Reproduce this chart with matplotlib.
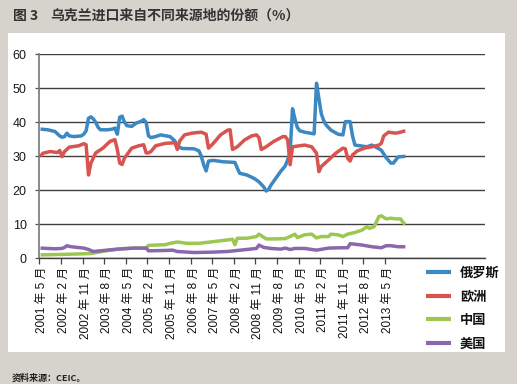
import matplotlib
matplotlib.use("Agg")
import matplotlib.pyplot as plt
from matplotlib.patches import Rectangle

plt.rcParams['font.family'] = ['Noto Sans CJK SC', 'DejaVu Sans']
TICK_FONT = ['Liberation Sans', 'Noto Sans CJK SC', 'DejaVu Sans']

# ---------------- data (month index 0 = 2001年5月) ----------------
tick_labels = ["2001 年 5 月", "2002 年 2 月", "2002 年 11 月", "2003 年 8 月",
               "2004 年 5 月", "2005 年 2 月", "2005 年 11 月", "2006 年 8 月",
               "2007 年 5 月", "2008 年 2 月", "2008 年 11 月", "2009 年 8 月",
               "2010 年 5 月", "2011 年 2 月", "2011 年 11 月", "2012 年 8 月",
               "2013 年 5 月"]
series_names = ["俄罗斯", "欧洲", "中国", "美国"]

ru_month = [0, 3, 6, 8, 9, 10, 11, 12, 14, 17, 18, 19, 20, 21, 22, 23, 24, 25, 28, 30,
            31, 32, 33, 34, 35, 36, 38, 40, 42, 43, 44, 45, 46, 48, 50, 54, 56, 57, 59,
            64, 66, 67, 68, 69, 70, 72, 76, 81, 82, 83, 86, 89, 91, 93, 94, 95, 96, 98,
            100, 102, 103, 104, 105, 106, 107, 108, 110, 114, 115, 116, 117, 118, 119,
            121, 124, 126, 127, 129, 130, 131, 134, 136, 138, 140, 142, 144, 146, 147,
            149, 152]
ru_value = [38.0, 37.8, 37.3, 36.0, 35.6, 35.8, 36.8, 36.0, 35.8, 36.0, 36.5, 37.5, 41.2,
            41.6, 41.0, 40.0, 38.5, 37.8, 37.8, 38.0, 38.3, 36.5, 41.5, 41.8, 40.0, 39.0,
            38.8, 39.8, 40.3, 40.8, 40.0, 36.0, 35.5, 35.8, 36.3, 35.8, 34.5, 33.0, 32.3,
            32.2, 31.6, 30.0, 27.5, 25.7, 28.6, 28.8, 28.4, 28.2, 26.5, 25.0, 24.5, 23.5,
            22.5, 21.0, 19.8, 20.2, 21.5, 23.5, 25.5, 27.2, 29.0, 31.0, 44.0, 41.0, 38.5,
            37.5, 37.1, 36.6, 51.5, 47.0, 42.5, 40.5, 39.2, 37.7, 36.5, 36.3, 40.2, 40.2,
            36.0, 33.3, 33.0, 32.8, 33.3, 32.6, 31.8, 29.6, 28.0, 28.0, 29.8, 30.0]

eu_month = [0, 1, 4, 7, 8, 9, 10, 12, 16, 18, 19, 20, 21, 23, 26, 29, 31, 32, 33, 34, 35,
            38, 41, 43, 44, 45, 46, 48, 52, 56, 57, 58, 60, 63, 67, 69, 70, 72, 75, 78,
            79, 80, 82, 85, 88, 90, 91, 92, 94, 97, 101, 102, 103, 104, 105, 107, 110,
            113, 115, 116, 117, 120, 123, 126, 127, 128, 129, 130, 132, 135, 138, 141,
            142, 143, 145, 148, 150, 152]
eu_value = [30.0, 30.9, 31.4, 31.1, 31.7, 29.9, 31.4, 32.7, 33.1, 33.7, 33.4, 24.5, 28.0,
            31.0, 32.4, 34.4, 34.9, 32.0, 28.0, 27.6, 29.5, 32.4, 33.1, 33.4, 31.0, 31.0,
            31.4, 33.1, 33.8, 34.0, 32.0, 34.5, 36.3, 36.8, 37.1, 36.5, 32.4, 33.8, 36.3,
            37.7, 37.8, 32.0, 32.8, 34.8, 36.0, 36.3, 35.5, 32.0, 32.8, 34.3, 35.8, 35.8,
            34.8, 27.5, 32.8, 33.0, 33.3, 32.8, 30.9, 25.5, 27.0, 28.9, 30.9, 32.4, 32.2,
            29.4, 28.6, 30.4, 31.6, 32.4, 32.8, 33.3, 33.8, 36.0, 37.1, 36.8, 37.1, 37.5]

cn_month = [0, 12, 21, 24, 28, 34, 39, 44, 45, 52, 54, 57, 61, 66, 72, 78, 80, 81, 82, 86,
            90, 91, 93, 94, 98, 102, 104, 106, 107, 110, 113, 115, 117, 120, 121, 124,
            126, 128, 131, 134, 136, 137, 139, 141, 142, 144, 146, 148, 150, 151, 152]
cn_value = [1.0, 1.2, 1.4, 1.8, 2.3, 2.8, 3.0, 3.0, 3.8, 4.0, 4.4, 4.8, 4.4, 4.4, 4.9,
            5.4, 5.6, 4.0, 5.9, 5.9, 6.4, 7.1, 6.2, 5.7, 5.7, 5.8, 6.4, 7.1, 6.1, 6.9,
            7.1, 6.0, 6.4, 6.4, 7.1, 6.9, 6.4, 7.1, 7.6, 8.3, 9.3, 8.8, 9.3, 12.3, 12.5,
            11.6, 11.8, 11.6, 11.6, 10.6, 10.0]

us_month = [0, 6, 9, 10, 11, 12, 14, 18, 20, 22, 25, 32, 39, 44, 45, 52, 55, 57, 64, 71,
            78, 82, 86, 90, 91, 93, 96, 100, 102, 104, 106, 110, 115, 120, 125, 128, 129,
            134, 138, 142, 144, 146, 149, 152]
us_value = [3.0, 2.8, 2.9, 3.2, 3.7, 3.5, 3.3, 3.0, 2.6, 2.0, 2.2, 2.7, 3.0, 3.0, 2.2,
            2.3, 2.4, 2.0, 1.7, 1.8, 2.0, 2.3, 2.6, 2.9, 3.9, 3.2, 2.9, 2.7, 3.0, 2.6,
            2.9, 2.9, 2.4, 3.0, 3.1, 3.1, 4.3, 3.9, 3.4, 3.1, 3.7, 3.7, 3.4, 3.4]

colors = ["#3b88c3", "#d9534f", "#9cc751", "#8a68ad"]

# ---------------- figure ----------------
W, H = 517, 384
fig = plt.figure(figsize=(W / 100, H / 100), dpi=100)
fig.patch.set_facecolor("#d6d3cc")

# white panel
fig.add_artist(Rectangle((8 / W, 1 - 352 / H), (505 - 8) / W, (352 - 33) / H,
                         transform=fig.transFigure, facecolor="white",
                         edgecolor="none", zorder=0))

ax = fig.add_axes([39.3 / W, 1 - 258.3 / H, (485 - 39.3) / W, 204 / H])
ax.set_facecolor("none")

data = [(ru_month, ru_value), (eu_month, eu_value), (cn_month, cn_value), (us_month, us_value)]
for (mx, vy), c, name in zip(data, colors, series_names):
    ax.plot(mx, vy, color=c, lw=2.5, solid_joinstyle="round", solid_capstyle="butt",
            label=name, zorder=3)

ax.set_xlim(-0.5, 185.2)
ax.set_ylim(0, 60)
ax.set_yticks(range(0, 61, 10))
ax.yaxis.grid(True, color="#3f3f3f", lw=1.0)
ax.set_axisbelow(True)
ax.tick_params(axis="y", length=3, width=0.9, color="#555555", pad=6,
               labelsize=9, labelcolor="#1a1a1a")
for t in ax.get_yticklabels():
    t.set_family(TICK_FONT)

label_pos = [9 * i + 0.8 for i in range(len(tick_labels))]
ax.set_xticks(label_pos)
ax.set_xticklabels(tick_labels, rotation=90, fontsize=8.5, color="#111111",
                   family=TICK_FONT)
ax.tick_params(axis="x", length=0, pad=6)
ax.set_xticks([9 * i - 0.5 for i in range(len(tick_labels))], minor=True)
ax.tick_params(axis="x", which="minor", length=4, width=0.9, color="#444444")

for s in ["top", "right"]:
    ax.spines[s].set_visible(False)
ax.spines["left"].set_color("#777777")
ax.spines["left"].set_linewidth(1.2)
ax.spines["bottom"].set_color("#3f3f3f")
ax.spines["bottom"].set_linewidth(1.0)

leg = fig.legend(loc="upper left", bbox_to_anchor=(425.7 / W, 1 - 266 / H),
                 frameon=False, fontsize=9.5, handlelength=1.9, handletextpad=0.7,
                 labelspacing=0.72, borderaxespad=0, borderpad=0)
for t in leg.get_texts():
    t.set_fontweight("bold")
    t.set_color("#111111")
for l in leg.get_lines():
    l.set_linewidth(3)

fig.text(13 / W, 1 - 16 / H, "图 3", fontsize=10, fontweight="bold",
         color="#333333", va="center", ha="left")
fig.text(50 / W, 1 - 16 / H, "乌克兰进口来自不同来源地的份额（%）", fontsize=10,
         fontweight="bold", color="#333333", va="center", ha="left")
fig.text(12 / W, 1 - 378 / H, "资料来源：CEIC。", fontsize=6.5, fontweight="bold",
         color="#222222", va="center", ha="left")

fig.savefig("out.png", dpi=100, facecolor=fig.get_facecolor())
